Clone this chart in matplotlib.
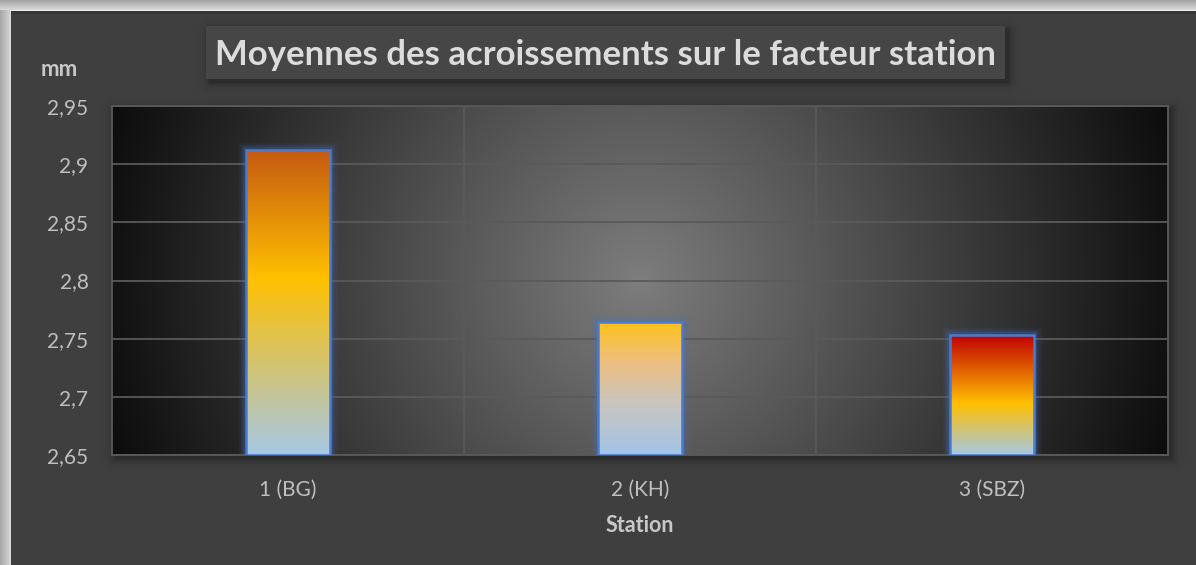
import matplotlib.pyplot as plt
import numpy as np
from matplotlib.colors import to_rgb

# données
stations = ['1 (BG)', '2 (KH)', '3 (SBZ)']
moyennes = [2.912, 2.764, 2.753]
y_ticks = [2.65, 2.70, 2.75, 2.80, 2.85, 2.90, 2.95]
y_labels = ['2,65', '2,7', '2,75', '2,8', '2,85', '2,9', '2,95']
titre = "Moyennes des acroissements sur le facteur station"

# dégradés des barres (haut -> bas)
bar_stops = [
    [(0.0, '#C55A11'), (0.42, '#FFC000'), (1.0, '#A6C8E6')],
    [(0.0, '#FFC21A'), (0.3, '#EDBE80'), (0.62, '#C9C6C0'), (1.0, '#A2C4E8')],
    [(0.0, '#C00000'), (0.57, '#FFC000'), (1.0, '#A6C8E6')],
]

W, H, DPI = 1196, 565, 100
PL, PR, PT, PB = 112, 1168, 106, 455      # zone de tracé en pixels
TL, TR, TT, TB = 206, 1005, 26, 79        # cadre du titre

plt.rcParams['font.family'] = ['Lato', 'DejaVu Sans']


def shadow(img, x0, y0, x1, y1, off=4, blur=5.0, strength=0.35):
    yy, xx = np.mgrid[0:img.shape[0], 0:img.shape[1]]
    dx = np.maximum(np.maximum(x0 + off - xx, 0), xx - (x1 + off))
    dy = np.maximum(np.maximum(y0 + off - yy, 0), yy - (y1 + off))
    d = np.sqrt(dx ** 2 + dy ** 2)
    img *= (1 - strength * np.exp(-d / blur))[:, :, None]


def gradient(stops, n=300):
    pos = [s[0] for s in stops]
    cols = np.array([to_rgb(s[1]) for s in stops])
    t = np.linspace(0, 1, n)
    return np.stack([np.interp(t, pos, cols[:, k]) for k in range(3)], axis=-1)


fig = plt.figure(figsize=(W / DPI, H / DPI), dpi=DPI)

# fond + cadre extérieur
bg = np.full((H, W, 3), 0x40 / 255)
shadow(bg, PL, PT, PR, PB, off=3, blur=5, strength=0.3)
shadow(bg, TL, TT, TR, TB, off=3, blur=4, strength=0.3)
bg[TT:TB, TL:TR, :] = 0x46 / 255
bg[:10, :, :] = np.linspace(0.64, 0.85, 10)[:, None, None]
bg[10:, :10, :] = np.linspace(0.66, 0.82, 10)[None, :, None]
bg[10, 10:, :] = 0.93
bg[10:, 10, :] = 0.86
bg[11:14, 11:, :] *= 0.85
ax_bg = fig.add_axes([0, 0, 1, 1])
ax_bg.imshow(bg, aspect='auto', interpolation='bilinear')
ax_bg.axis('off')

ax = fig.add_axes([PL / W, 1 - PB / H, (PR - PL) / W, (PB - PT) / H])
ax.patch.set_alpha(0)

x = np.arange(len(stations))
xlo, xhi = -0.5, len(stations) - 0.5
ylo, yhi = y_ticks[0], y_ticks[-1]

# dégradé radial de la zone de tracé
gx = np.linspace(-1, 1, 600) * (PR - PL) / 2
gy = np.linspace(-1, 1, 200) * (PB - PT) / 2
GX, GY = np.meshgrid(gx, gy)
r = np.sqrt(GX ** 2 + GY ** 2) / np.hypot((PR - PL) / 2, (PB - PT) / 2)
lum = (125 - 113 * np.clip(r, 0, 1)) / 255
ax.imshow(np.dstack([lum] * 3), extent=(xlo, xhi, ylo, yhi), aspect='auto',
          zorder=0, interpolation='bilinear')

# grille
for yt in y_ticks:
    ax.axhline(yt, color='#5A5A5A', lw=1.3, zorder=1)
for xb in x[:-1] + 0.5:
    ax.axvline(xb, color='#5A5A5A', lw=1.3, zorder=1)

# barres
w = 0.24
for i, v in enumerate(moyennes):
    for lw, a in [(11, 0.08), (7.5, 0.14), (4.5, 0.22)]:
        ax.add_patch(plt.Rectangle((x[i] - w / 2, ylo), w, v - ylo, fill=False,
                                   ec='#4472C4', lw=lw, alpha=a, zorder=2))
    ax.imshow(gradient(bar_stops[i])[:, None, :],
              extent=(x[i] - w / 2, x[i] + w / 2, ylo, v), aspect='auto',
              zorder=3, interpolation='bilinear')
ax.bar(x, np.array(moyennes) - ylo, bottom=ylo, width=w, fc='none',
       ec='#4A7BD0', lw=1.8, zorder=4)

ax.set_xlim(xlo, xhi)
ax.set_ylim(ylo, yhi)
ax.set_yticks(y_ticks)
ax.set_yticklabels(y_labels)
ax.set_xticks(x)
ax.set_xticklabels(stations)
ax.tick_params(axis='y', length=0, pad=17, labelsize=15, labelcolor='#BFBFBF')
ax.tick_params(axis='x', length=0, pad=18, labelsize=15, labelcolor='#BFBFBF')
for s in ax.spines.values():
    s.set_color('#5A5A5A')
    s.set_linewidth(1.3)

fig.text((TL + TR) / 2 / W, 1 - (TT + TB + 5) / 2 / H, titre, ha='center',
         va='center', fontsize=25, fontweight='bold', color='#DCDCDC')
fig.text(59 / W, 1 - 69 / H, 'mm', ha='center', va='center',
         fontsize=16, fontweight='bold', color='#C8C8C8')
fig.text((PL + PR) / 2 / W, 1 - 525 / H, 'Station', ha='center', va='center',
         fontsize=15.5, fontweight='bold', color='#C8C8C8')

fig.savefig('out.png', dpi=DPI)
